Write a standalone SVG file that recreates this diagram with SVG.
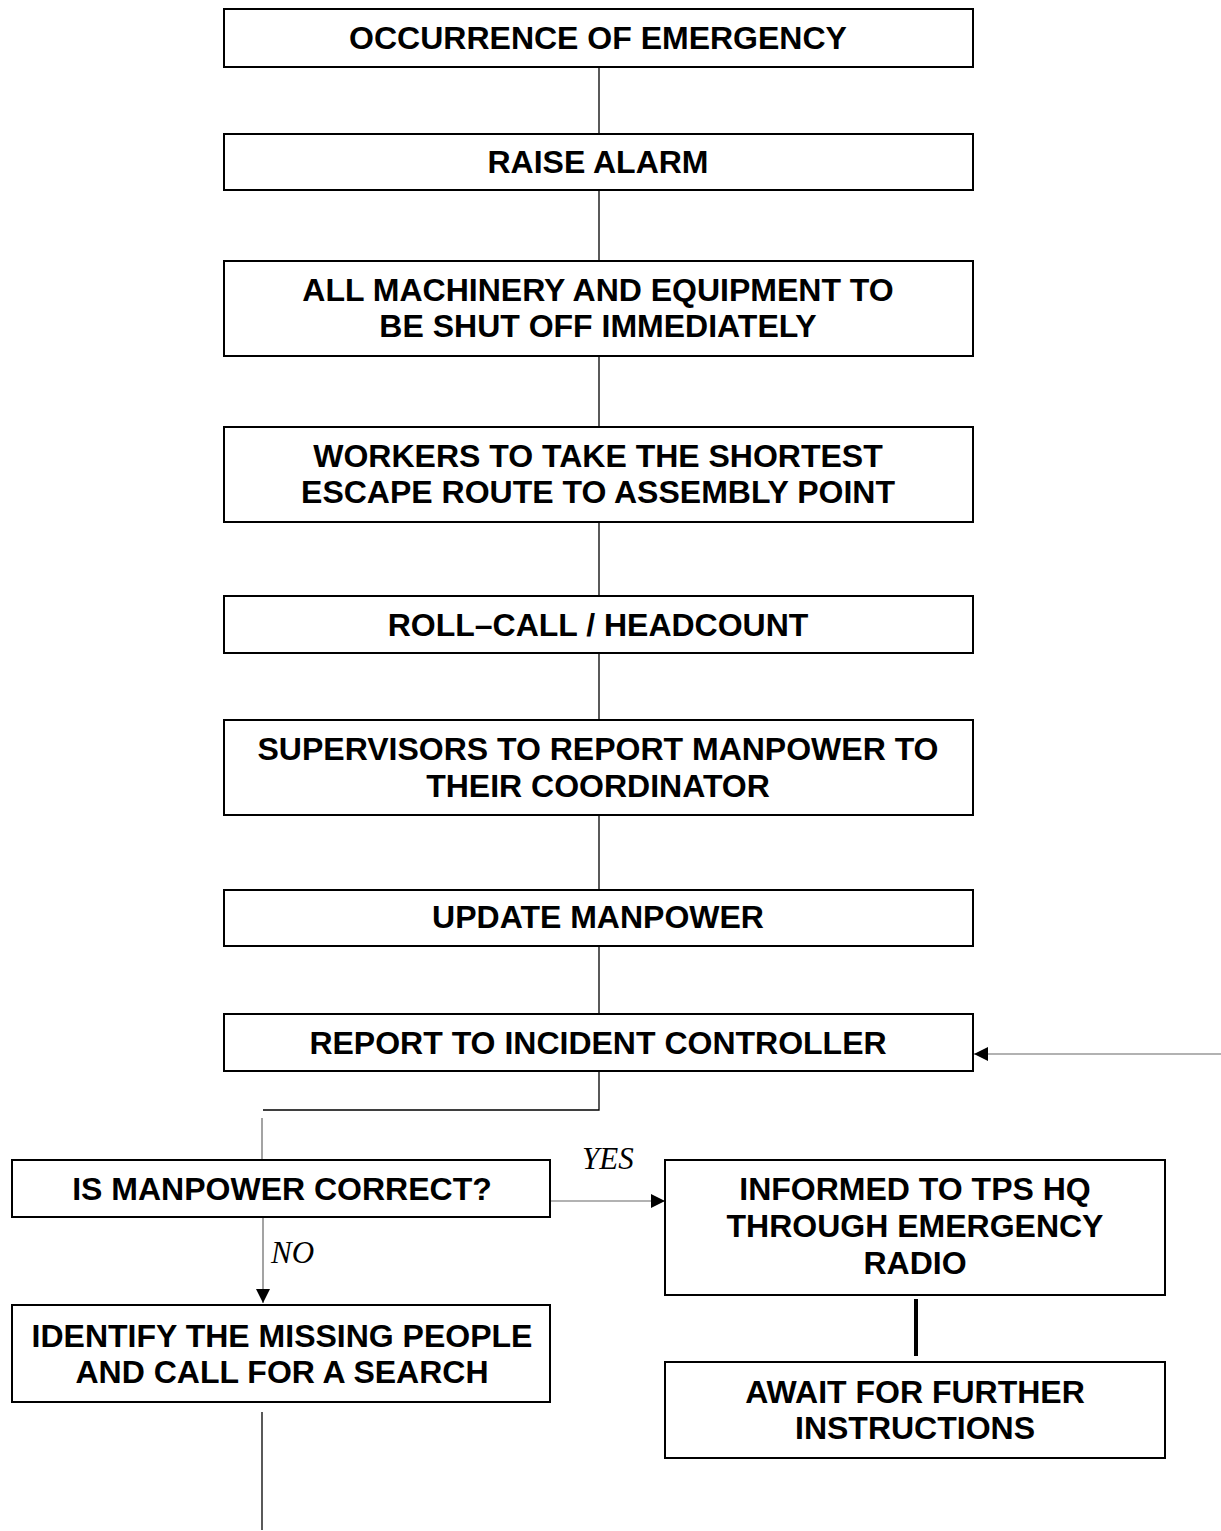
<svg xmlns="http://www.w3.org/2000/svg" width="1221" height="1531" viewBox="0 0 1221 1531">
<style>
.box{fill:#fff;stroke:#000;stroke-width:2}
.t{font-family:"Liberation Sans",Arial,sans-serif;font-weight:bold;font-size:32px;text-anchor:middle;fill:#000}
.lbl{font-family:"Liberation Serif","Times New Roman",serif;font-style:italic;font-size:31px;fill:#000}
.c{stroke:#000;stroke-width:1.3;fill:none}
.ct{stroke:#666;stroke-width:1.2;fill:none}
</style>
<defs>
<marker id="ah2" markerWidth="14" markerHeight="14" refX="14" refY="7" orient="auto" markerUnits="userSpaceOnUse" viewBox="0 0 14 14">
<path d="M0,0 L14,7 L0,14 Z" fill="#000"/>
</marker>
</defs>
<rect width="1221" height="1531" fill="#fff"/>
<g id="connectors">
<line class="c" x1="599" y1="67" x2="599" y2="134"/>
<line class="c" x1="599" y1="190" x2="599" y2="261"/>
<line class="c" x1="599" y1="356" x2="599" y2="427"/>
<line class="c" x1="599" y1="522" x2="599" y2="596"/>
<line class="c" x1="599" y1="653" x2="599" y2="720"/>
<line class="c" x1="599" y1="815" x2="599" y2="890"/>
<line class="c" x1="599" y1="946" x2="599" y2="1014"/>
<polyline class="c" points="599,1071 599,1110 263,1110"/>
<line class="ct" x1="262" y1="1118" x2="262" y2="1160"/>
<line class="ct" x1="1221" y1="1054" x2="974" y2="1054" marker-end="url(#ah2)"/>
<line class="ct" x1="551" y1="1201" x2="665" y2="1201" marker-end="url(#ah2)"/>
<line class="ct" x1="263" y1="1218" x2="263" y2="1303" marker-end="url(#ah2)"/>
<line x1="916" y1="1299" x2="916" y2="1356" stroke="#000" stroke-width="4"/>
<line class="c" x1="262" y1="1412" x2="262" y2="1530"/>
<text class="lbl" x="582" y="1169">YES</text>
<text class="lbl" x="271" y="1263">NO</text>
</g>
<g id="n1"><rect class="box" x="224" y="9" width="749" height="58"/><text class="t" x="598" y="49">OCCURRENCE OF EMERGENCY</text></g>
<g id="n2"><rect class="box" x="224" y="134" width="749" height="56"/><text class="t" x="598" y="173">RAISE ALARM</text></g>
<g id="n3"><rect class="box" x="224" y="261" width="749" height="95"/><text class="t" x="598" y="301">ALL MACHINERY AND EQUIPMENT TO</text><text class="t" x="598" y="337">BE SHUT OFF IMMEDIATELY</text></g>
<g id="n4"><rect class="box" x="224" y="427" width="749" height="95"/><text class="t" x="598" y="467">WORKERS TO TAKE THE SHORTEST</text><text class="t" x="598" y="503">ESCAPE ROUTE TO ASSEMBLY POINT</text></g>
<g id="n5"><rect class="box" x="224" y="596" width="749" height="57"/><text class="t" x="598" y="636">ROLL–CALL / HEADCOUNT</text></g>
<g id="n6"><rect class="box" x="224" y="720" width="749" height="95"/><text class="t" x="598" y="760">SUPERVISORS TO REPORT MANPOWER TO</text><text class="t" x="598" y="797">THEIR COORDINATOR</text></g>
<g id="n7"><rect class="box" x="224" y="890" width="749" height="56"/><text class="t" x="598" y="928">UPDATE MANPOWER</text></g>
<g id="n8"><rect class="box" x="224" y="1014" width="749" height="57"/><text class="t" x="598" y="1054">REPORT TO INCIDENT CONTROLLER</text></g>
<g id="n9"><rect class="box" x="12" y="1160" width="538" height="57"/><text class="t" x="282" y="1200">IS MANPOWER CORRECT?</text></g>
<g id="n10"><rect class="box" x="665" y="1160" width="500" height="135"/><text class="t" x="915" y="1200">INFORMED TO TPS HQ</text><text class="t" x="915" y="1237">THROUGH EMERGENCY</text><text class="t" x="915" y="1274">RADIO</text></g>
<g id="n11"><rect class="box" x="665" y="1362" width="500" height="96"/><text class="t" x="915" y="1403">AWAIT FOR FURTHER</text><text class="t" x="915" y="1439">INSTRUCTIONS</text></g>
<g id="n12"><rect class="box" x="12" y="1305" width="538" height="97"/><text class="t" x="282" y="1347">IDENTIFY THE MISSING PEOPLE</text><text class="t" x="282" y="1383">AND CALL FOR A SEARCH</text></g>
</svg>
